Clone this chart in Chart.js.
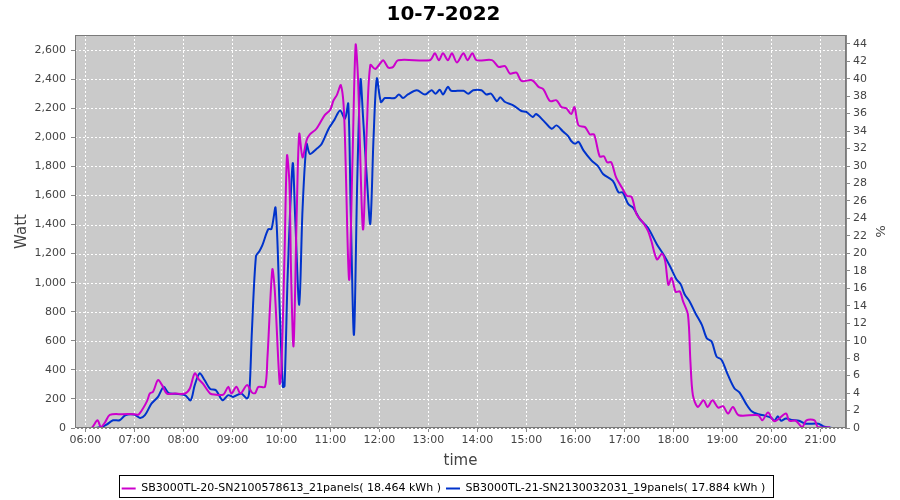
<!DOCTYPE html>
<html>
<head>
<meta charset="utf-8">
<script src="https://cdn.jsdelivr.net/npm/chart.js@4.4.1/dist/chart.umd.min.js"></script>
<style>
  html, body { margin: 0; padding: 0; background: #fff; }
</style>
</head>
<body>
<canvas id="myChart" width="900" height="500"></canvas>
<script>
// tick labels
var hourTicks = ['06:00','07:00','08:00','09:00','10:00','11:00','12:00','13:00','14:00','15:00','16:00','17:00','18:00','19:00','20:00','21:00'];
var wattTicks = [0,200,400,600,800,1000,1200,1400,1600,1800,2000,2200,2400,2600];
var pctTicks = [0,2,4,6,8,10,12,14,16,18,20,22,24,26,28,30,32,34,36,38,40,42,44];

// SB3000TL-20 (magenta)
var magentaTimes = ['06:04','06:08','06:15','06:19','06:24','06:30','06:45','07:00','07:05','07:11','07:16','07:19','07:23','07:29','07:34','07:40','07:50','08:02','08:08','08:14','08:19','08:24','08:29','08:33','08:38','08:49','08:55','08:59','09:05','09:10','09:18','09:24','09:28','09:32','09:40','09:43','09:49','09:52','09:58','10:00','10:04','10:07','10:10','10:12','10:15','10:19','10:22','10:26','10:31','10:35','10:43','10:53','11:00','11:04','11:08','11:13','11:17','11:23','11:27','11:31','11:34','11:40','11:45','11:49','11:55','12:01','12:05','12:11','12:17','12:23','13:02','13:08','13:13','13:18','13:24','13:29','13:35','13:43','13:48','13:54','13:59','14:18','14:26','14:34','14:40','14:48','14:54','15:07','15:15','15:21','15:29','15:37','15:43','15:49','15:55','15:59','16:04','16:12','16:18','16:23','16:30','16:35','16:39','16:44','16:50','16:57','17:03','17:09','17:15','17:23','17:29','17:33','17:40','17:46','17:50','17:54','17:58','18:03','18:08','18:12','18:18','18:21','18:24','18:30','18:37','18:42','18:48','18:55','19:01','19:07','19:13','19:20','19:44','19:49','19:56','20:02','20:06','20:18','20:22','20:30','20:38','20:43','20:53','20:57','21:12'];
var magentaWatts = [0,2,53,7,37,90,95,95,92,138,190,237,250,330,295,237,237,237,272,376,335,306,265,237,230,230,283,237,283,237,295,245,240,283,283,479,1090,950,306,380,1200,1874,1680,1060,565,1500,2024,1862,1980,2020,2059,2151,2190,2255,2290,2358,2150,1021,1800,2635,2400,1367,2100,2497,2470,2508,2530,2480,2485,2531,2531,2578,2530,2578,2531,2578,2515,2578,2531,2578,2531,2531,2485,2490,2439,2445,2388,2393,2347,2330,2250,2255,2208,2200,2160,2208,2082,2070,2020,2020,1867,1870,1828,1828,1724,1655,1598,1590,1471,1413,1356,1290,1160,1199,1150,985,1033,936,940,871,779,456,226,145,191,145,191,140,150,99,145,88,88,53,106,53,50,99,50,50,7,53,53,7,5];

// SB3000TL-21 (blue)
var blueTimes = ['06:12','06:20','06:26','06:34','06:42','06:49','07:00','07:07','07:13','07:21','07:29','07:36','07:42','07:50','08:02','08:09','08:14','08:20','08:26','08:33','08:40','08:48','08:55','09:01','09:11','09:18','09:21','09:24','09:29','09:33','09:37','09:44','09:48','09:53','09:58','10:02','10:04','10:08','10:14','10:17','10:22','10:26','10:31','10:35','10:43','10:49','10:58','11:05','11:12','11:18','11:22','11:25','11:29','11:33','11:37','11:40','11:45','11:49','11:53','11:57','12:02','12:07','12:19','12:24','12:29','12:35','12:46','12:56','13:04','13:09','13:14','13:18','13:24','13:28','13:43','13:49','13:55','14:05','14:11','14:17','14:24','14:28','14:34','14:44','14:54','15:00','15:08','15:12','15:21','15:31','15:37','15:45','15:51','15:55','16:00','16:04','16:10','16:20','16:28','16:34','16:46','16:53','16:58','17:05','17:11','17:19','17:29','17:40','17:48','17:56','18:04','18:09','18:14','18:20','18:27','18:35','18:41','18:47','18:53','18:59','19:07','19:15','19:21','19:29','19:36','19:44','19:52','20:00','20:04','20:08','20:12','20:18','20:26','20:34','20:42','20:58','21:04','21:14'];
var blueWatts = [0,7,23,53,53,88,92,69,88,168,214,283,240,235,226,191,295,376,330,268,260,191,226,214,237,203,260,664,1183,1215,1260,1367,1370,1515,825,283,290,1079,1820,1450,848,1500,1955,1886,1920,1950,2059,2120,2185,2128,2232,1500,641,1700,2398,2150,1700,1406,2000,2405,2243,2270,2270,2295,2270,2295,2324,2294,2324,2300,2328,2295,2347,2320,2320,2300,2324,2324,2295,2300,2248,2275,2243,2220,2181,2175,2140,2160,2115,2059,2082,2040,2010,1975,1955,1970,1910,1840,1800,1748,1701,1621,1621,1540,1515,1437,1378,1263,1194,1113,1021,990,918,871,791,710,618,595,491,470,364,272,245,168,115,95,85,70,50,80,50,65,55,50,30,30,10,0];

var seriesNames = ['SB3000TL-20-SN2100578613_21panels( 18.464 kWh )', 'SB3000TL-21-SN2130032031_19panels( 17.884 kWh )'];

function toMin(s) {
    var p = s.split(':');
    return parseInt(p[0], 10) * 60 + parseInt(p[1], 10);
}
function toHHMM(m) {
    var h = Math.floor(m / 60), mm = Math.round(m - h * 60);
    return (h < 10 ? '0' : '') + h + ':' + (mm < 10 ? '0' : '') + mm;
}
function points(times, vals) {
    return times.map(function(t, i) { return {x: toMin(t), y: vals[i]}; });
}

// gray plot background, dashed white grid, frame round the plot and the legend
var plotDeco = {
    id: 'plotDeco',
    beforeDraw: function(chart) {
        var ctx = chart.ctx, a = chart.chartArea;
        ctx.save();
        ctx.fillStyle = '#cacaca';
        ctx.fillRect(a.left, a.top, a.right - a.left, a.bottom - a.top);
        ctx.restore();
    },
    beforeDatasetsDraw: function(chart) {
        var ctx = chart.ctx, a = chart.chartArea;
        var sx = chart.scales.x, sy = chart.scales.y;
        ctx.save();
        ctx.strokeStyle = '#ffffff';
        ctx.lineWidth = 1;
        ctx.setLineDash([2, 2]);
        ctx.beginPath();
        sx.ticks.forEach(function(t) {
            var px = Math.round(sx.getPixelForValue(t.value)) + 0.5;
            ctx.moveTo(px, a.top); ctx.lineTo(px, a.bottom);
        });
        sy.ticks.forEach(function(t) {
            var py = Math.round(sy.getPixelForValue(t.value)) + 0.5;
            ctx.moveTo(a.left, py); ctx.lineTo(a.right, py);
        });
        ctx.stroke();
        ctx.restore();
    },
    afterDraw: function(chart) {
        var ctx = chart.ctx, a = chart.chartArea;
        ctx.save();
        ctx.strokeStyle = '#7a7a7a';
        ctx.lineWidth = 1;
        ctx.strokeRect(Math.round(a.left) + 0.5, Math.round(a.top) + 0.5, Math.round(a.right - a.left) - 1, Math.round(a.bottom - a.top) - 1);
        var hb = chart.legend.legendHitBoxes;
        if (hb && hb.length) {
            var l = hb[0].left, r = hb[hb.length - 1].left + hb[hb.length - 1].width;
            var t = hb[0].top, b = hb[0].top + hb[0].height;
            ctx.strokeStyle = '#000';
            ctx.strokeRect(Math.round(l) - 2.5, Math.round(t) - 7.5, Math.round(r - l) + 10, Math.round(b - t) + 11);
        }
        ctx.restore();
    }
};

var tickFont = {family: 'DejaVu Sans', size: 11};
var axisFont = {family: 'DejaVu Sans', size: 15};

var ctx = document.getElementById('myChart');
var myChart = new Chart(ctx, {
    type: 'line',
    data: {
        datasets: [{
            label: seriesNames[0],
            data: points(magentaTimes, magentaWatts),
            borderColor: '#cc00cc',
            backgroundColor: '#cc00cc',
            borderWidth: 2,
            pointRadius: 0,
            tension: 0.3,
            yAxisID: 'y'
        }, {
            label: seriesNames[1],
            data: points(blueTimes, blueWatts),
            borderColor: '#0033cc',
            backgroundColor: '#0033cc',
            borderWidth: 2,
            pointRadius: 0,
            tension: 0.3,
            yAxisID: 'y'
        }]
    },
    options: {
        responsive: false,
        animation: false,
        layout: {padding: {left: 0, right: 13, top: 0, bottom: -4}},
        plugins: {
            title: {
                display: true,
                text: '10-7-2022',
                color: '#000',
                font: {family: 'DejaVu Sans', size: 20, weight: 'bold'},
                padding: {top: 3, bottom: 8}
            },
            legend: {
                position: 'bottom',
                labels: {
                    color: '#000',
                    font: {family: 'DejaVu Sans', size: 11},
                    usePointStyle: true,
                    pointStyle: 'line',
                    pointStyleWidth: 14,
                    boxHeight: 8,
                    padding: 5
                }
            },
            tooltip: {enabled: false}
        },
        scales: {
            x: {
                type: 'linear',
                min: 347.4,
                max: 1291.5,
                afterBuildTicks: function(s) { s.ticks = hourTicks.map(function(t) { return {value: toMin(t)}; }); },
                afterFit: function(s) { s.height = 50; },
                ticks: {
                    font: tickFont, color: '#444', padding: 2, maxRotation: 0, autoSkip: false,
                    callback: function(v) { return toHHMM(v); }
                },
                grid: {drawOnChartArea: false, tickColor: '#888', tickLength: 4},
                border: {display: true, color: '#888'},
                title: {display: true, text: 'time', color: '#444', font: axisFont, padding: {top: 2, bottom: 8}}
            },
            y: {
                type: 'linear',
                position: 'left',
                min: 0,
                max: 2704,
                afterBuildTicks: function(s) { s.ticks = wattTicks.map(function(v) { return {value: v}; }); },
                afterFit: function(s) { s.width = 75; },
                ticks: {
                    font: tickFont, color: '#444', padding: 5,
                    callback: function(v) { return v.toLocaleString('en-US'); }
                },
                grid: {drawOnChartArea: false, tickColor: '#888', tickLength: 4},
                border: {display: true, color: '#888'},
                title: {display: true, text: 'Watt', color: '#444', font: axisFont, padding: {top: 13, bottom: 0}}
            },
            y1: {
                type: 'linear',
                position: 'right',
                min: 0,
                max: 45,
                afterBuildTicks: function(s) { s.ticks = pctTicks.map(function(v) { return {value: v}; }); },
                afterFit: function(s) { s.width = 41; },
                ticks: {font: tickFont, color: '#444', padding: 3},
                grid: {drawOnChartArea: false, tickColor: '#888', tickLength: 4},
                border: {display: true, color: '#888'},
                title: {display: true, text: '%', color: '#444', font: {family: 'DejaVu Sans', size: 13}, padding: {top: 0, bottom: 0}}
            }
        }
    },
    plugins: [plotDeco]
});
</script>
</body>
</html>
